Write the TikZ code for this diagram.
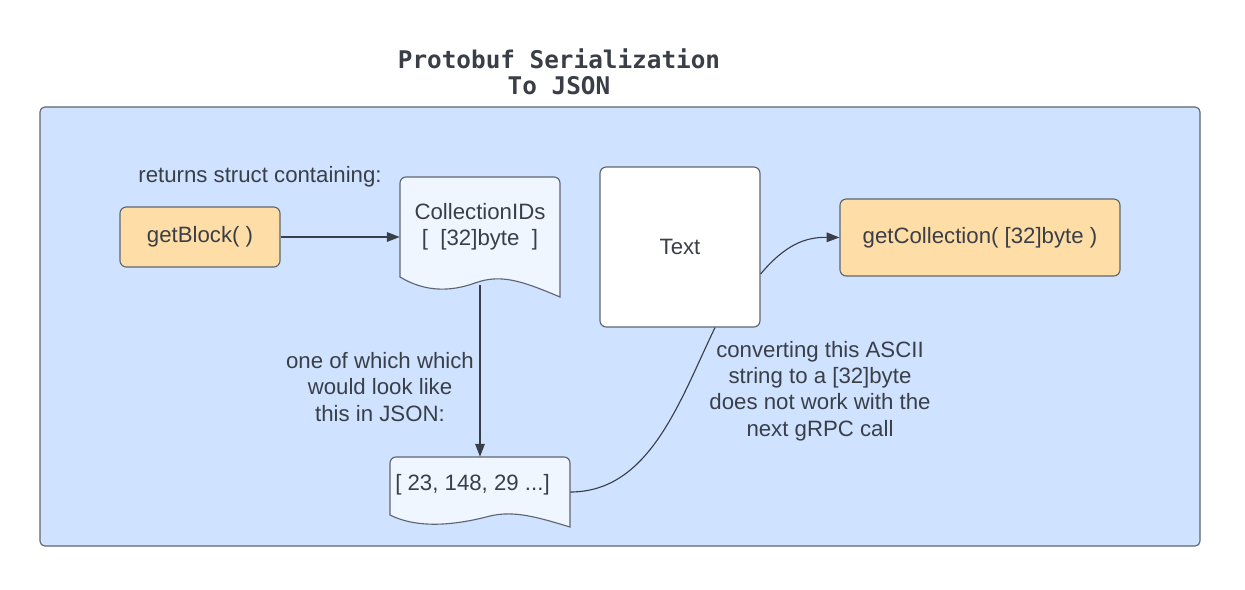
\documentclass[tikz,border=0pt]{standalone}
\usepackage{fontspec}
\setmainfont{Liberation Sans}
\newfontfamily\titlefont{DejaVu Sans Mono}
\usetikzlibrary{arrows.meta,calc}
\usetikzlibrary{positioning}

\definecolor{panelblue}{RGB}{207,226,255}
\definecolor{docblue}{RGB}{239,246,255}
\definecolor{fnorange}{RGB}{255,221,166}
\definecolor{edgegrey}{RGB}{95,101,112}
\definecolor{inkgrey}{RGB}{58,63,71}

\newcommand\lbl{\fontsize{15.8}{18.8}\selectfont}

\tikzset{
  fnbox/.style={draw=edgegrey,fill=fnorange,rounded corners=1.6mm,line width=0.8pt,
    text=inkgrey,font=\lbl},
  plainbox/.style={draw=edgegrey,fill=white,rounded corners=1.6mm,line width=0.8pt,
    text=inkgrey,font=\lbl},
  docnode/.style={inner sep=0pt,text=inkgrey,font=\lbl,align=center},
  note/.style={text=inkgrey,font=\lbl,align=center,inner sep=0pt},
  docline/.style={draw=edgegrey,fill=docblue,line width=0.8pt},
  link/.style={draw=inkgrey,line width=0.8pt},
  arrowlink/.style={link,-{Triangle[length=3.2mm,width=2.4mm]}}
}

\begin{document}
\begin{tikzpicture}[x={(0.025cm,0)},y={(0,-0.025cm)}]
  \useasboundingbox[fill=white] (0,0) rectangle (1245,590);
  % panel and title
  \draw[draw=edgegrey,fill=panelblue,rounded corners=1.2mm,line width=0.8pt]
    (40,107) rectangle (1200,546);
  \node[text=inkgrey,align=center,font=\titlefont\bfseries\fontsize{17.3}{18.6}\selectfont]
    (title) at (559,72) {Protobuf Serialization\\To JSON};

  % function boxes
  \node[fnbox,minimum width=4cm,minimum height=1.5cm] (getblock) at (200,237) {getBlock( )};
  \node[plainbox,minimum width=4cm,minimum height=4cm] (txt) at (680,247) {Text};
  \node[fnbox,minimum width=7cm,minimum height=1.925cm] (getcoll) at (980,237.5)
    {getCollection( [32]byte )};

  % documents
  \node[docnode,minimum width=4cm,minimum height=3cm] (ids) at (480,237) {};
  \draw[docline] (400,277) -- (400,183) arc (180:270:6) -- (554,177) arc (270:360:6)
    -- (560,297) .. controls (520,280) and (500,274) .. (475,283)
    .. controls (450,292) and (425,292) .. (400,277) -- cycle;
  \node[docnode] (idstext) at (480,227) {CollectionIDs\\{[}\ \ [32]byte\ \ {]}};

  \node[docnode,minimum width=4.5cm,minimum height=1.75cm] (json) at (480,492) {};
  \draw[docline] (390,515) -- (390,463) arc (180:270:6) -- (564,457) arc (270:360:6)
    -- (570,527) .. controls (540,518) and (515,510) .. (490,516)
    .. controls (460,524) and (420,530) .. (390,515) -- cycle;
  \node[docnode,anchor=west] (jsontext) at (395,485) {[ 23, 148, 29 ...]};

  % notes
  \node[note] (returns) at (260,177) {returns struct containing:};
  \node[note] (oneof) at (380,387) {one of which which\\would look like\\this in JSON:};
  \node[note] (convert) at (820,391) {converting this ASCII\\string to a [32]byte\\does not work with the\\next gRPC call};

  % connectors
  \coordinate (idsw) at (480,285);
  \coordinate (txtin) at ($(txt.south)+(35,0)$);
  \coordinate (txtout) at ($(txt.east)+(0,27)$);
  \draw[arrowlink] (getblock.east) -- (ids.west);
  \draw[arrowlink] (idsw) -- (json.north);
  \draw[link] (json.east) .. controls (650,492) and (680,400) .. (txtin);
  \draw[arrowlink] (txtout) .. controls (785,245) and (805,237) .. (getcoll.west);
\end{tikzpicture}
\end{document}
